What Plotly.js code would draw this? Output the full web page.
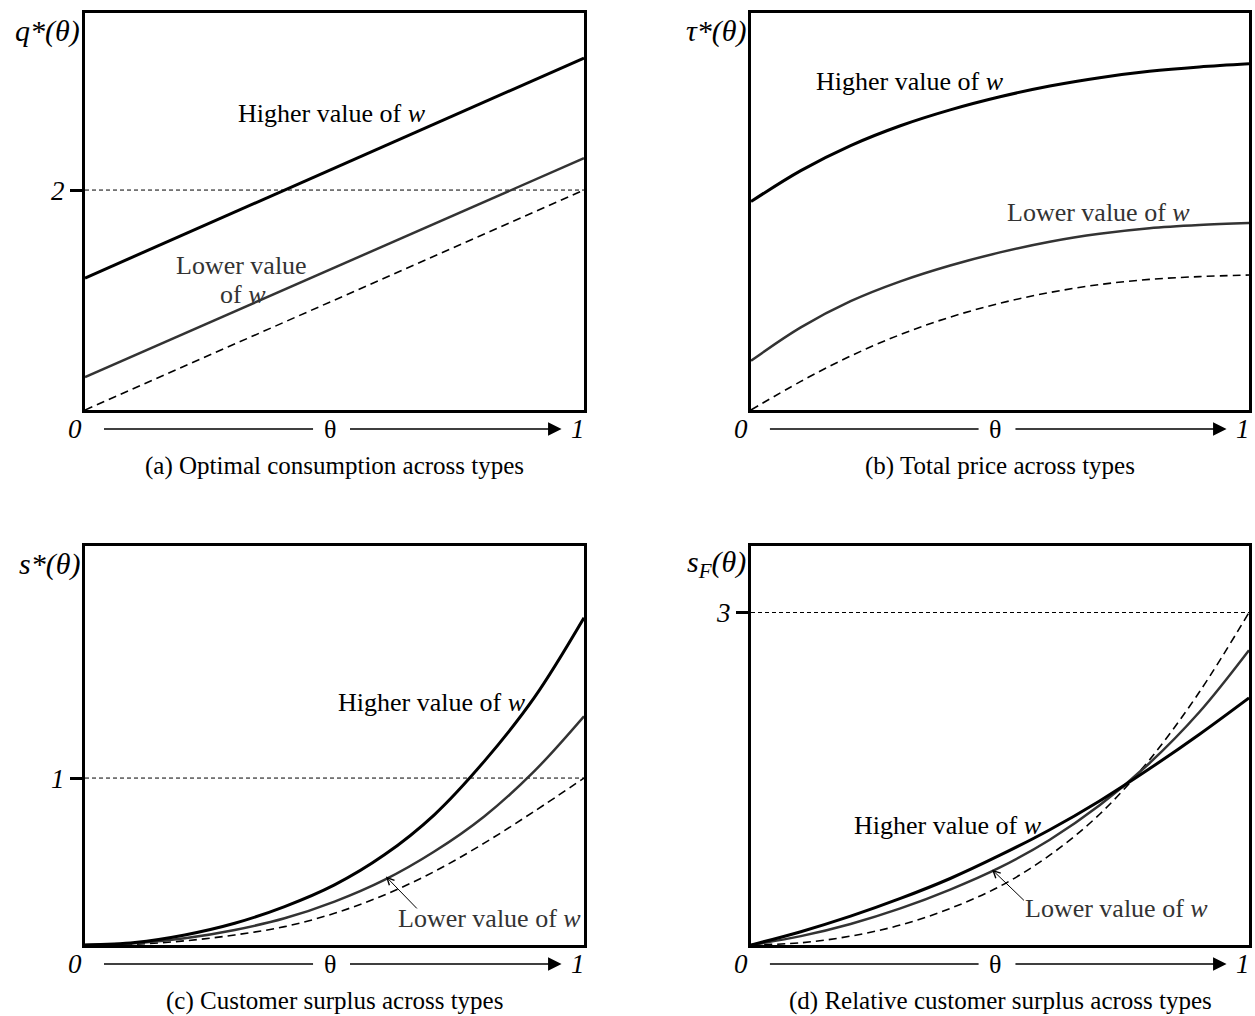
<!DOCTYPE html>
<html><head><meta charset="utf-8">
<script src="https://cdn.plot.ly/plotly-3.0.1.min.js"></script>
<style>html,body{margin:0;padding:0;background:#fff}#chart{width:1255px;height:1016px}</style>
</head><body><div id="chart"></div>
<script>
// ---------- data ----------
const thetaLine = [0, 1];
const aHigher = [1.2, 3.2];
const aLower = [0.3, 2.29];
const aBase = [0, 2];
const aRefY = [2, 2];

const theta = [0, 0.1, 0.2, 0.3, 0.4, 0.5, 0.6, 0.7, 0.8, 0.9, 1];
const bHigher = [52.5, 60.3, 66.6, 71.6, 75.6, 78.9, 81.6, 83.7, 85.3, 86.4, 87.2];
const bLower  = [12.4, 20.8, 27.4, 32.4, 36.4, 39.7, 42.4, 44.4, 45.8, 46.6, 47.1];
const bBase   = [0, 7.2, 13.6, 19.0, 23.4, 26.9, 29.6, 31.6, 32.9, 33.6, 34.0];

const cHigher = [0, 0.015, 0.06, 0.13, 0.23, 0.36, 0.54, 0.78, 1.10, 1.48, 1.96];
const cLower  = [0, 0.01, 0.04, 0.09, 0.16, 0.26, 0.39, 0.56, 0.77, 1.04, 1.37];
const cBase   = [0, 0.005, 0.025, 0.06, 0.11, 0.19, 0.30, 0.44, 0.61, 0.80, 1.0];
const cRefY = [1, 1];

const dHigher = [0, 0.12, 0.26, 0.42, 0.60, 0.81, 1.04, 1.30, 1.59, 1.90, 2.23];
const dLower  = [0, 0.08, 0.19, 0.33, 0.50, 0.70, 0.95, 1.26, 1.64, 2.10, 2.66];
const dBase   = [0, 0.02, 0.08, 0.18, 0.33, 0.53, 0.81, 1.18, 1.67, 2.28, 3.00];
const dRefY = [3, 3];

const yTitles = ['<i>q*(θ)</i>', '<i>τ*(θ)</i>', '<i>s*(θ)</i>', '<i>s<sub>F</sub>(θ)</i>'];
const captions = ['(a) Optimal consumption across types', '(b) Total price across types',
                  '(c) Customer surplus across types', '(d) Relative customer surplus across types'];
const hiLabel = 'Higher value of <i>w</i>';
const loLabel = 'Lower value of <i>w</i>';

// ---------- styling ----------
const FONT = 'Liberation Serif, Times New Roman, serif';
const W = 1255, H = 1016;
const GRAY = '#333333';
const px = x => x / W;
const py = y => 1 - y / H;

const hiLine = {color: '#000', width: 3};
const loLine = {color: GRAY, width: 2.5};
const baseLine = {color: '#000', width: 1.6, dash: '8px,5px'};
const refLine = {color: '#000', width: 1, dash: '4px,3px'};

function tr(x, y, ax, line, shape) {
  return {x: x, y: y, xaxis: 'x' + ax, yaxis: 'y' + ax, mode: 'lines', type: 'scatter',
          line: Object.assign({shape: shape || 'linear', smoothing: 1}, line), hoverinfo: 'skip'};
}
const ax1 = '', ax2 = '2', ax3 = '3', ax4 = '4';
const data = [
  tr(thetaLine, aRefY, ax1, refLine),
  tr(thetaLine, aBase, ax1, baseLine),
  tr(thetaLine, aLower, ax1, loLine),
  tr(thetaLine, aHigher, ax1, hiLine),
  tr(theta, bBase, ax2, baseLine, 'spline'),
  tr(theta, bLower, ax2, loLine, 'spline'),
  tr(theta, bHigher, ax2, hiLine, 'spline'),
  tr(thetaLine, cRefY, ax3, refLine),
  tr(theta, cBase, ax3, baseLine, 'spline'),
  tr(theta, cLower, ax3, loLine, 'spline'),
  tr(theta, cHigher, ax3, hiLine, 'spline'),
  tr(thetaLine, dRefY, ax4, refLine),
  tr(theta, dBase, ax4, baseLine, 'spline'),
  tr(theta, dLower, ax4, loLine, 'spline'),
  tr(theta, dHigher, ax4, hiLine, 'spline')
];

// panel boxes in pixels
const boxes = [
  {l: 85, r: 584, t: 13, b: 410},
  {l: 751, r: 1249, t: 13, b: 410},
  {l: 85, r: 584, t: 546, b: 945},
  {l: 751, r: 1249, t: 546, b: 945}
];
function xAxis(bx, anchor) {
  return {domain: [px(bx.l), px(bx.r)], range: [0, 1], anchor: anchor, showline: true, mirror: true,
          linewidth: 3, linecolor: '#000', showgrid: false, zeroline: false, showticklabels: false,
          ticks: '', fixedrange: true};
}
function yAxis(bx, anchor, range, tick) {
  const o = {domain: [py(bx.b), py(bx.t)], range: range, anchor: anchor, showline: true, mirror: true,
             linewidth: 3, linecolor: '#000', showgrid: false, zeroline: false, fixedrange: true};
  if (tick !== null) {
    o.tickvals = [tick]; o.ticktext = ['<i>' + tick + '</i>']; o.ticks = 'outside';
    o.ticklen = 12; o.tickwidth = 3; o.tickcolor = '#000';
    o.tickfont = {family: FONT, size: 27, color: '#000'};
  } else {
    o.showticklabels = false; o.ticks = '';
  }
  return o;
}

const annotations = [];
const shapes = [];
boxes.forEach((bx, i) => {
  const wpx = bx.r - bx.l;
  const fx = f => px(bx.l + f * wpx);
  const rowY = bx.b + 19;
  // y title
  annotations.push({xref: 'paper', yref: 'paper', x: px(bx.l - 3), y: py(bx.t + 18), xanchor: 'right', yanchor: 'middle',
    text: yTitles[i], showarrow: false, font: {family: FONT, size: 30, color: '#000'}});
  // 0 and 1
  annotations.push({xref: 'paper', yref: 'paper', x: fx(-0.02), y: py(rowY), xanchor: 'center', yanchor: 'middle',
    text: '<i>0</i>', showarrow: false, font: {family: FONT, size: 27, color: '#000'}});
  annotations.push({xref: 'paper', yref: 'paper', x: fx(0.988), y: py(rowY), xanchor: 'center', yanchor: 'middle',
    text: '<i>1</i>', showarrow: false, font: {family: FONT, size: 27, color: '#000'}});
  // theta
  annotations.push({xref: 'paper', yref: 'paper', x: fx(0.49), y: py(rowY), xanchor: 'center', yanchor: 'middle',
    text: 'θ', showarrow: false, font: {family: FONT, size: 26, color: '#000'}});
  // left segment
  shapes.push({type: 'line', xref: 'paper', yref: 'paper', x0: fx(0.038), x1: fx(0.457), y0: py(rowY), y1: py(rowY),
    line: {color: '#000', width: 1.5}});
  // right segment with arrowhead
  annotations.push({xref: 'paper', yref: 'paper', x: fx(0.955), y: py(rowY), ax: -(0.955 - 0.528) * wpx, ay: 0,
    text: '', showarrow: true, arrowhead: 2, arrowsize: 1.8, arrowwidth: 1.5, arrowcolor: '#000'});
  // caption
  annotations.push({xref: 'paper', yref: 'paper', x: px((bx.l + bx.r) / 2), y: py(bx.b + 56), xanchor: 'center', yanchor: 'middle',
    text: captions[i], showarrow: false, font: {family: FONT, size: 25, color: '#000'}});
});

function lab(xp, yp, text, color) {
  return {xref: 'paper', yref: 'paper', x: px(xp), y: py(yp), xanchor: 'center', yanchor: 'middle', text: text,
          showarrow: false, font: {family: FONT, size: 26, color: color}};
}
annotations.push(lab(332, 113, hiLabel, '#000'));
annotations.push(lab(241, 265, 'Lower value', GRAY));
annotations.push(lab(243, 295, 'of <i>w</i>', GRAY));
annotations.push(lab(910, 82, hiLabel, '#000'));
annotations.push(lab(1098, 213, loLabel, GRAY));
annotations.push(lab(432, 702, hiLabel, '#000'));
annotations.push(lab(489, 918, loLabel, GRAY));
annotations.push(lab(948, 825, hiLabel, '#000'));
annotations.push(lab(1116, 908, loLabel, GRAY));
// pointer arrows to the lower curves
annotations.push({xref: 'x3', yref: 'y3', x: 0.603, y: 0.41, axref: 'x3', ayref: 'y3', ax: 0.668, ay: 0.21,
  text: '', showarrow: true, arrowhead: 5, arrowsize: 1.4, arrowwidth: 1, arrowcolor: '#000'});
annotations.push({xref: 'x4', yref: 'y4', x: 0.484, y: 0.68, axref: 'x4', ayref: 'y4', ax: 0.551, ay: 0.39,
  text: '', showarrow: true, arrowhead: 5, arrowsize: 1.4, arrowwidth: 1, arrowcolor: '#000'});

const layout = {
  width: W, height: H, margin: {l: 0, r: 0, t: 0, b: 0}, showlegend: false,
  paper_bgcolor: '#fff', plot_bgcolor: '#fff',
  xaxis: xAxis(boxes[0], 'y'), yaxis: yAxis(boxes[0], 'x', [0, 3.61], 2),
  xaxis2: xAxis(boxes[1], 'y2'), yaxis2: yAxis(boxes[1], 'x2', [0, 100], null),
  xaxis3: xAxis(boxes[2], 'y3'), yaxis3: yAxis(boxes[2], 'x3', [0, 2.39], 1),
  xaxis4: xAxis(boxes[3], 'y4'), yaxis4: yAxis(boxes[3], 'x4', [0, 3.6], 3),
  annotations: annotations, shapes: shapes
};
Plotly.newPlot('chart', data, layout, {displayModeBar: false, staticPlot: true});
</script></body></html>
